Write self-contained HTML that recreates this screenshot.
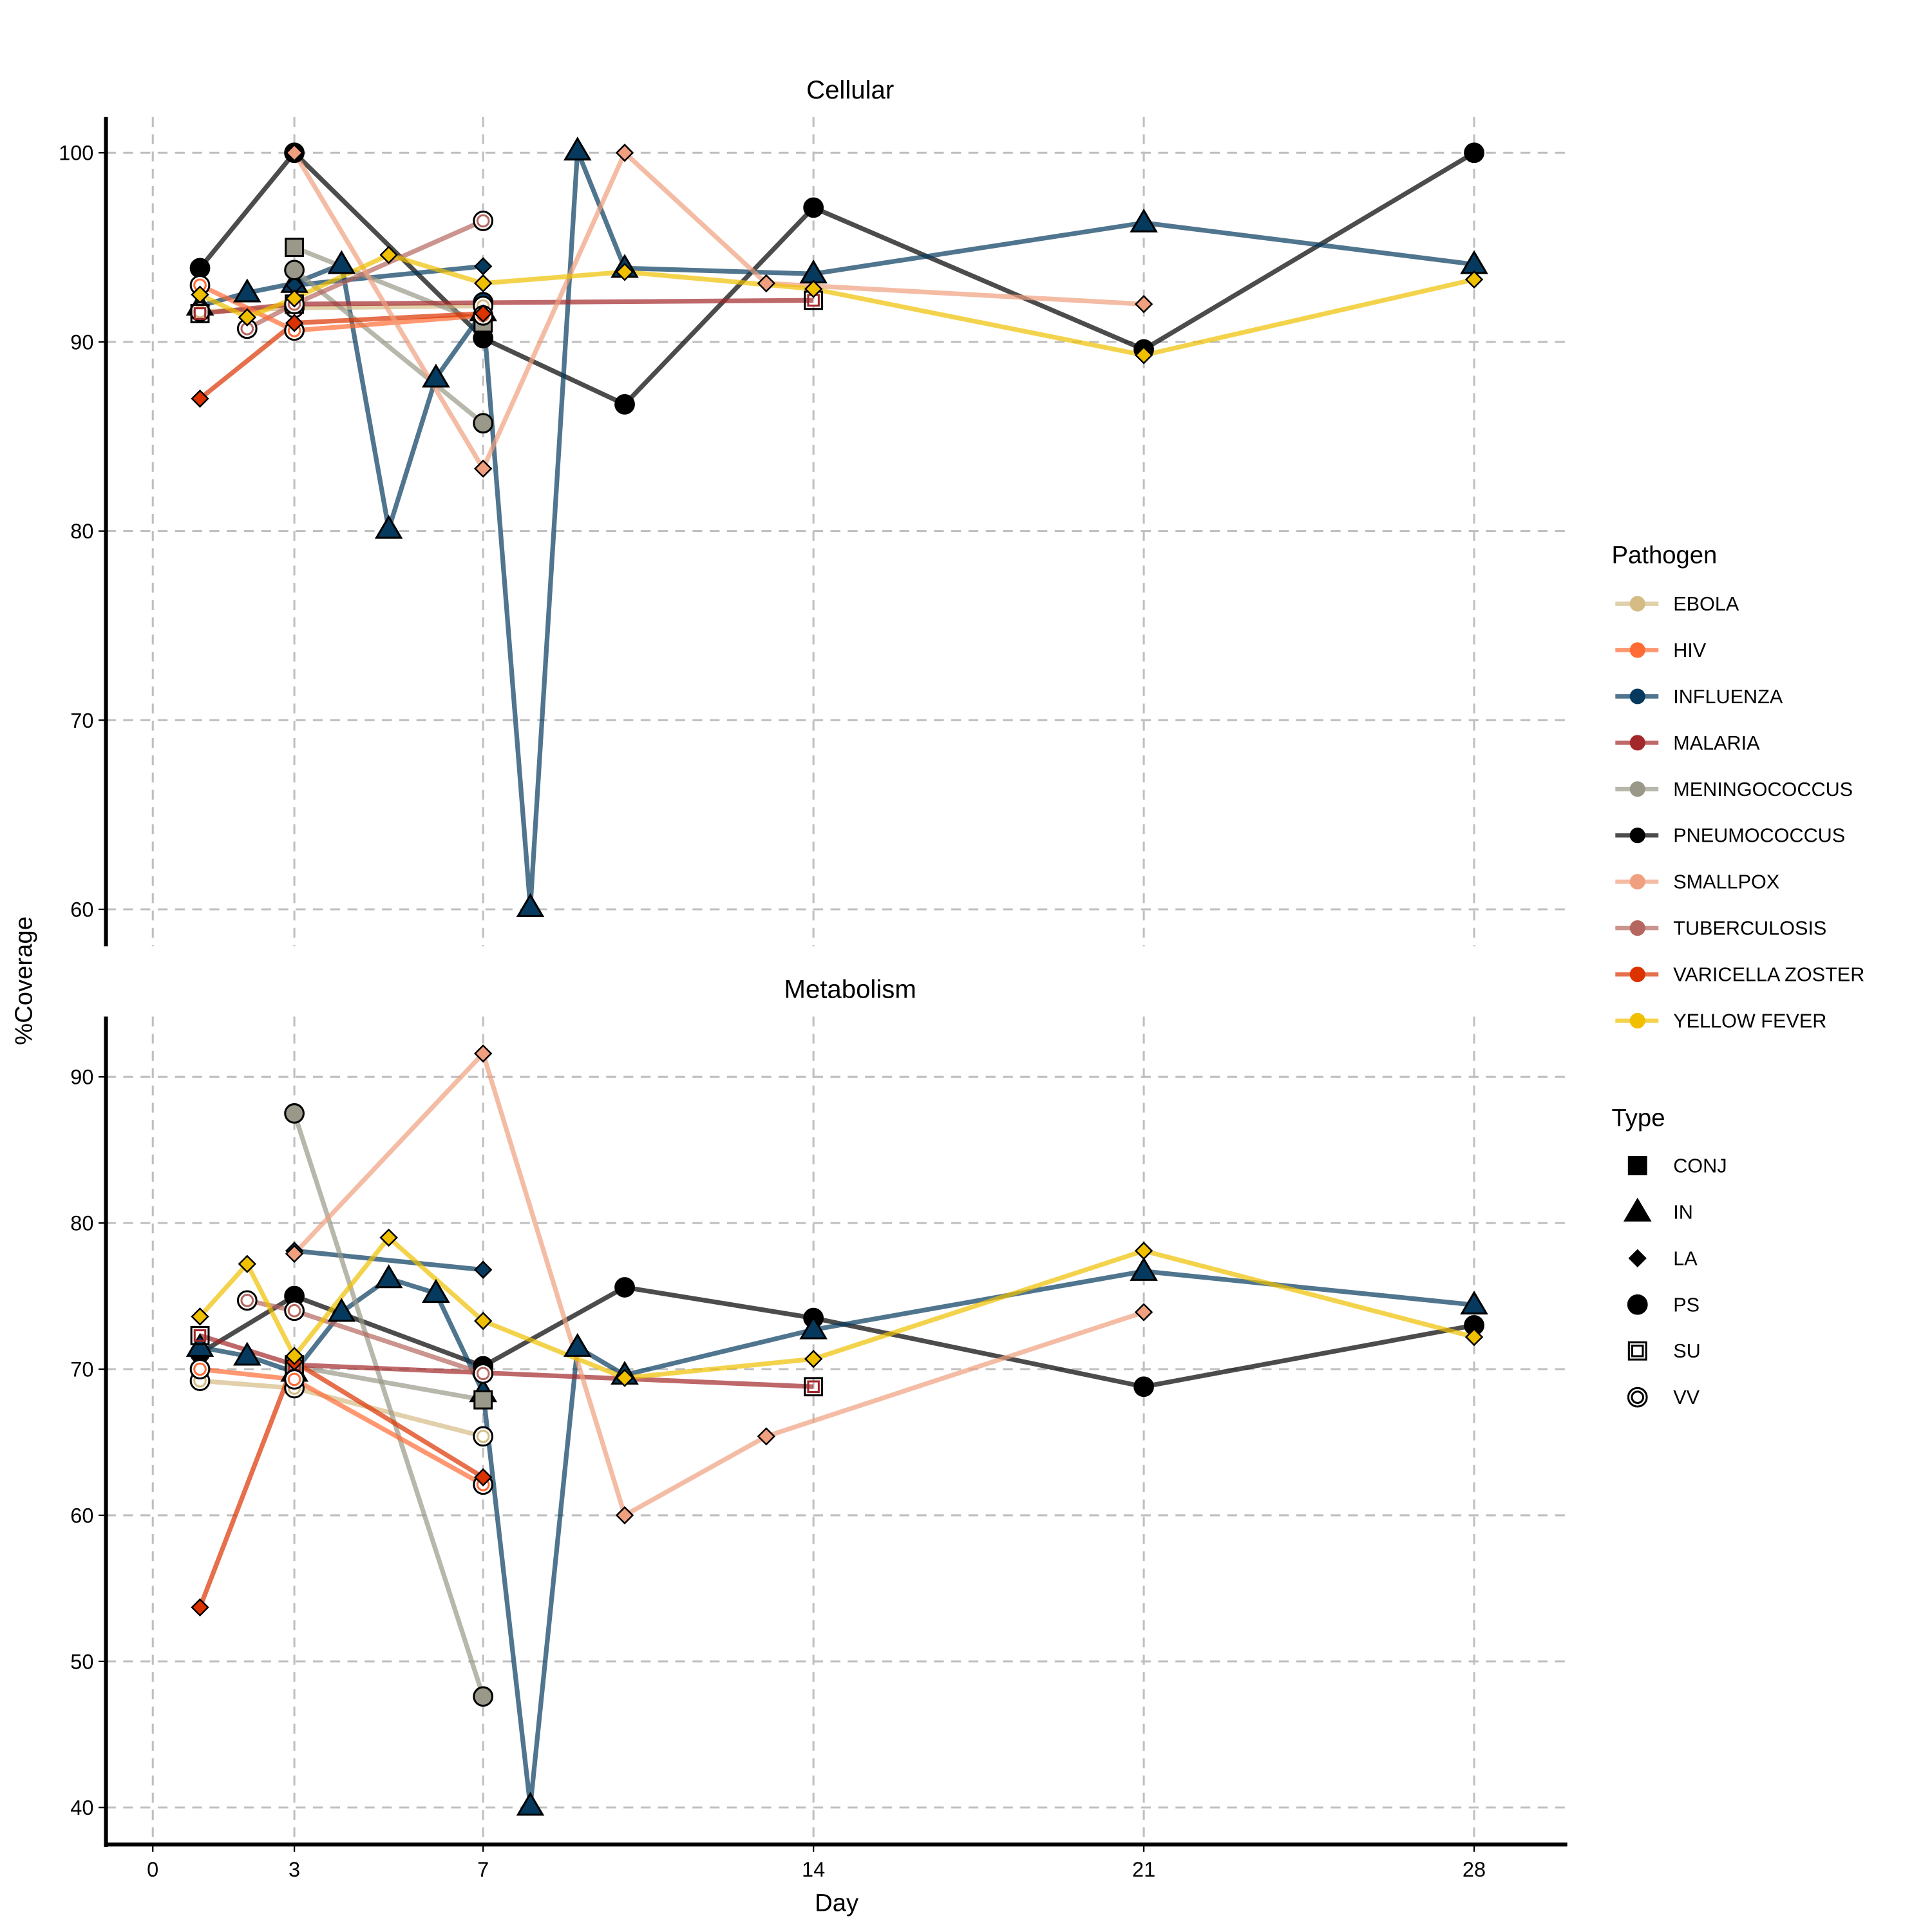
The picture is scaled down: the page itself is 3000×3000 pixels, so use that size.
<!DOCTYPE html>
<html><head><meta charset="utf-8"><style>
html,body{margin:0;padding:0;background:#fff}
svg{display:block;font-family:"Liberation Sans",Arial,sans-serif}
</style></head><body>
<svg id="chart" width="3000" height="3000" viewBox="0 0 1568 1568" xmlns="http://www.w3.org/2000/svg">
<g id="grid"></g><g id="lines"></g><g id="points"></g><g id="axes"></g><g id="legend"></g>
</svg>
<script>
const pathogens = ["EBOLA","HIV","INFLUENZA","MALARIA","MENINGOCOCCUS","PNEUMOCOCCUS","SMALLPOX","TUBERCULOSIS","VARICELLA ZOSTER","YELLOW FEVER"];
const pathogenColors = ["#d4bc84","#ff6b35","#053a5e","#a3282b","#9a9888","#000000","#f0a07e","#b5665e","#db3200","#f0c000"];
const types = ["CONJ","IN","LA","PS","SU","VV"];
const xTicks = [0,3,7,14,21,28];
const yTicksTop = [60,70,80,90,100];
const yTicksBottom = [40,50,60,70,80,90];
// series: [pathogen, type, days, values]
const cellularSeries = [
 ["PNEUMOCOCCUS","PS",[1,3,7,10,14,21,28],[93.9,100,90.2,86.7,97.1,89.6,100]],
 ["INFLUENZA","IN",[1,2,3,4,5,6,7,8,9,10,14,21,28],[91.9,92.6,93.1,94.1,80.1,88.1,91.6,60.1,100.1,93.9,93.6,96.3,94.1]],
 ["INFLUENZA","LA",[3,7],[93.0,94.0]],
 ["INFLUENZA","PS",[7],[92.1]],
 ["EBOLA","VV",[1,3,7],[91.6,91.8,91.9]],
 ["MENINGOCOCCUS","CONJ",[3,7],[95.0,91.0]],
 ["MENINGOCOCCUS","PS",[3,7],[93.8,85.7]],
 ["MALARIA","SU",[1,3,14],[91.5,92.0,92.2]],
 ["TUBERCULOSIS","VV",[2,3,7],[90.7,92.0,96.4]],
 ["HIV","VV",[1,3,7],[93.0,90.6,91.4]],
 ["VARICELLA ZOSTER","LA",[1,3,7],[87.0,91.0,91.5]],
 ["SMALLPOX","LA",[3,7,10,13,21],[100,83.3,100,93.1,92.0]],
 ["YELLOW FEVER","LA",[1,2,3,5,7,10,14,21,28],[92.5,91.3,92.3,94.6,93.1,93.7,92.8,89.3,93.3]]
];
const metabolismSeries = [
 ["PNEUMOCOCCUS","PS",[1,3,7,10,14,21,28],[71.1,75.0,70.2,75.6,73.5,68.8,73.0]],
 ["INFLUENZA","IN",[1,2,3,4,5,6,7,8,9,10,14,21,28],[71.5,70.9,69.8,73.9,76.2,75.2,68.4,40.1,71.5,69.6,72.7,76.7,74.4]],
 ["INFLUENZA","LA",[3,7],[78.1,76.8]],
 ["EBOLA","VV",[1,3,7],[69.2,68.7,65.4]],
 ["MENINGOCOCCUS","PS",[3,7],[87.5,47.6]],
 ["MENINGOCOCCUS","CONJ",[3,7],[70.2,67.9]],
 ["MALARIA","SU",[1,3,14],[72.3,70.3,68.8]],
 ["TUBERCULOSIS","VV",[2,3,7],[74.7,74.0,69.7]],
 ["HIV","VV",[1,3,7],[70.0,69.3,62.1]],
 ["VARICELLA ZOSTER","LA",[1,3,7],[53.7,70.5,62.6]],
 ["SMALLPOX","LA",[3,7,10,13,21],[77.9,91.6,60.0,65.4,73.9]],
 ["YELLOW FEVER","LA",[1,2,3,5,7,10,14,21,28],[73.6,77.2,70.9,79.0,73.3,69.4,70.7,78.1,72.2]]
];
const NS="http://www.w3.org/2000/svg";
function mk(tag,attrs,parent){const e=document.createElementNS(NS,tag);for(const k in attrs)e.setAttribute(k,attrs[k]);parent.appendChild(e);return e;}
const G=id=>document.getElementById(id);
const xS=d=>124+d*38.3;
const panels=[
 {title:"Cellular",series:cellularSeries,ticks:yTicksTop,y:v=>124+(100-v)*15.35,top:95,bot:768,name:"cellular"},
 {title:"Metabolism",series:metabolismSeries,ticks:yTicksBottom,y:v=>874+(90-v)*11.86,top:825,bot:1497,name:"metabolism"}
];
const col=p=>pathogenColors[pathogens.indexOf(p)];
function marker(type,x,y,c,parent){
 let e;
 if(type==="CONJ"){e=mk("rect",{x:x-7,y:y-7,width:14,height:14,fill:c,stroke:"#000","stroke-width":1.6},parent);}
 else if(type==="IN"){e=mk("polygon",{points:`${x},${y-10} ${x-10},${y+7} ${x+10},${y+7}`,fill:c,stroke:"#000","stroke-width":1.6},parent);}
 else if(type==="LA"){e=mk("polygon",{points:`${x},${y-6.5} ${x+6.5},${y} ${x},${y+6.5} ${x-6.5},${y}`,fill:c,stroke:"#000","stroke-width":1.3},parent);}
 else if(type==="PS"){e=mk("circle",{cx:x,cy:y,r:7.5,fill:c,stroke:"#000","stroke-width":1.6},parent);}
 else if(type==="SU"){e=mk("g",{},parent);mk("rect",{x:x-7,y:y-7,width:14,height:14,fill:"none",stroke:"#000","stroke-width":1.6},e);mk("rect",{x:x-4.3,y:y-4.3,width:8.6,height:8.6,fill:"none",stroke:c,"stroke-width":1.6},e);}
 else {e=mk("g",{},parent);mk("circle",{cx:x,cy:y,r:7.5,fill:"#fff",stroke:"#000","stroke-width":1.6},e);mk("circle",{cx:x,cy:y,r:4.6,fill:"none",stroke:c,"stroke-width":1.6},e);}
 return e;
}
panels.forEach(p=>{
 p.ticks.forEach(t=>{const l=mk("line",{x1:86,x2:1272,y1:p.y(t),y2:p.y(t),stroke:"#bfbfbf","stroke-width":1.6,"stroke-dasharray":"8,6"},G("grid"));
  
  });
 xTicks.forEach(t=>{const l=mk("line",{x1:xS(t),x2:xS(t),y1:p.top,y2:p.bot,stroke:"#bfbfbf","stroke-width":1.6,"stroke-dasharray":"8,6"},G("grid"));
  
  });
 p.series.forEach(s=>{
  const c=col(s[0]);const pts=s[2].map((d,i)=>xS(d)+","+p.y(s[3][i])).join(" ");
  if(s[2].length>1){const l=mk("polyline",{points:pts,fill:"none",stroke:c,"stroke-opacity":0.7,"stroke-width":3.8,"stroke-linejoin":"round"},G("lines"));
   
   }
  s[2].forEach((d,i)=>{const m=marker(s[1],xS(d),p.y(s[3][i]),c,G("points"));
   
   });
 });
 const ax=mk("line",{x1:86,x2:86,y1:p.top,y2:p.name==="metabolism"?1499:p.bot,stroke:"#000","stroke-width":3.2},G("axes"));
 
 
 p.ticks.forEach(t=>{const l=mk("line",{x1:80,x2:86,y1:p.y(t),y2:p.y(t),stroke:"#000","stroke-width":1.2},G("axes"));
  
  
  const tx=mk("text",{x:76,y:p.y(t)+6,"text-anchor":"end","font-size":17,fill:"#000"},G("axes"));tx.textContent=t;
  
  });
 const tt=mk("text",{x:690,y:p.name==="cellular"?80:810,"text-anchor":"middle","font-size":21,fill:"#000"},G("axes"));tt.textContent=p.title;
 
 
});
const xa=mk("line",{x1:86,x2:1272,y1:1497,y2:1497,stroke:"#000","stroke-width":3.2},G("axes"));


xTicks.forEach(t=>{const l=mk("line",{x1:xS(t),x2:xS(t),y1:1497,y2:1503,stroke:"#000","stroke-width":1.2},G("axes"));
 
 
 const tx=mk("text",{x:xS(t),y:1523,"text-anchor":"middle","font-size":17,fill:"#000"},G("axes"));tx.textContent=t;
 
 });
const xt=mk("text",{x:679,y:1551,"text-anchor":"middle","font-size":20,fill:"#000"},G("axes"));xt.textContent="Day";


const yt=mk("text",{x:0,y:0,"text-anchor":"middle","font-size":20,fill:"#000",transform:"translate(26,796) rotate(-90)"},G("axes"));yt.textContent="%Coverage";


// legend
const lg=G("legend");
const t1=mk("text",{x:1308,y:457,"font-size":20,fill:"#000"},lg);t1.textContent="Pathogen";


pathogens.forEach((p,i)=>{const y=490+i*37.6;const g=mk("g",{},lg);
 
 
 mk("line",{x1:1311,x2:1346,y1:y,y2:y,stroke:pathogenColors[i],"stroke-opacity":0.7,"stroke-width":3.5},g);
 mk("circle",{cx:1329,cy:y,r:6.3,fill:pathogenColors[i]},g);
 const tx=mk("text",{x:1358,y:y+5.5,"font-size":16,fill:"#000"},g);tx.textContent=p;});
const t2=mk("text",{x:1308,y:914,"font-size":20,fill:"#000"},lg);t2.textContent="Type";


types.forEach((t,i)=>{const y=946+i*37.6;const g=mk("g",{},lg);
 
 
 marker(t,1329,y,"#000",g);
 if(t==="VV"||t==="SU"){g.lastChild.lastChild.setAttribute("stroke","#000");}
 const tx=mk("text",{x:1358,y:y+5.5,"font-size":16,fill:"#000"},g);tx.textContent=t;});
</script>
</body></html>
